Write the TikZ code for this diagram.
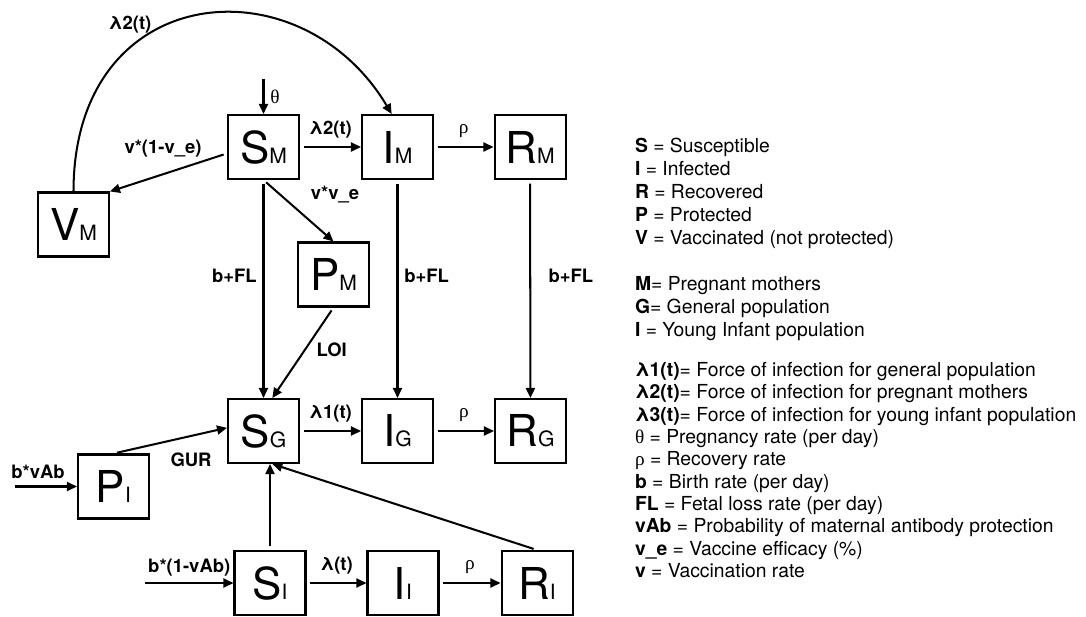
\documentclass[tikz,border=0pt]{standalone}
\usepackage{fontspec}
\setmainfont{TeX Gyre Heros}
\newfontfamily\symfont{Liberation Serif}
\usepackage{tikz}
\usetikzlibrary{positioning,arrows.meta}

% compartment label: big letter, small group letter on the same baseline
\newcommand{\cmpt}[2]{{\fontsize{25}{25}\selectfont #1}{\fontsize{12}{12}\selectfont #2}}

\begin{document}
\begin{tikzpicture}[>={Triangle[length=2mm,width=1.8mm]},line width=1.15pt,
  box/.style={draw,minimum width=1.42cm,minimum height=1.28cm,inner sep=0pt},
  flow/.style={->,shorten <=2pt},
  rate/.style={font=\fontsize{10.5}{12}\selectfont\bfseries},
  greek/.style={font=\fontsize{11}{12}\selectfont\symfont},
  key/.style={font=\fontsize{11}{13}\selectfont,align=left,anchor=north west,inner sep=0pt}]
  \useasboundingbox (0,0) rectangle (21.72,12.32);

  % pregnant mothers
  \node[box] (SM) at (5.27,9.38) {\cmpt{S}{M}};
  \node[box] (IM) at (7.95,9.38) {\cmpt{I}{M}};
  \node[box] (RM) at (10.60,9.38) {\cmpt{R}{M}};
  \node[box] (VM) at (1.47,7.83) {\cmpt{V}{M}};
  \node[box] (PM) at (6.67,6.83) {\cmpt{P}{M}};

  % general population
  \node[box] (SG) at (5.27,3.70) {\cmpt{S}{G}};
  \node[box] (IG) at (7.95,3.70) {\cmpt{I}{G}};
  \node[box] (RG) at (10.61,3.70) {\cmpt{R}{G}};

  % young infants
  \node[box] (PI) at (2.27,2.59) {\cmpt{P}{I}};
  \node[box] (SI) at (5.40,0.66) {\cmpt{S}{I}};
  \node[box] (II) at (8.06,0.66) {\cmpt{I}{I}};
  \node[box] (RI) at (10.74,0.66) {\cmpt{R}{I}};

  % inflows
  \coordinate (thetain) at (5.27,10.74);
  \coordinate (vAbin) at (0.30,2.59);
  \coordinate (novAbin) at (2.90,0.66);
  \draw[->] (thetain) -- node[right,greek] (lTheta) {θ} (SM);
  \draw[->] (vAbin) -- (PI);
  \node[rate] (lvAb) at (0.76,2.88) {b*vAb};
  \draw[->] (novAbin) -- node[above,rate] (lnovAb) {b*(1-vAb)} (SI);

  % mothers
  \draw[->] (VM.north) .. controls (1.47,12.72) and (6.0,13.12) .. (IM.100);
  \node[rate] (lLamTop) at (2.60,11.82) {λ2(t)};
  \draw[flow] (SM) -- node[above=0.4mm,rate] (lLamM) {λ2(t)} (IM);
  \draw[flow] (IM) -- node[above=0.5mm,greek] (lRhoM) {ρ} (RM);
  \draw[flow] (SM.-170) -- (VM.north east);
  \node[rate] (lVacc) at (3.26,9.34) {v*(1-v\_e)};
  \draw[flow] (SM.south) -- (PM.north);
  \node[rate] (lProt) at (6.70,8.42) {v*v\_e};

  % births and fetal loss
  \draw[flow] (SM) -- node[left,pos=0.44,rate] (lbFLa) {b+FL} (SG);
  \draw[flow] (IM) -- node[right,pos=0.44,rate] (lbFLb) {b+FL} (IG);
  \draw[flow] (RM) -- node[right=2.3mm,pos=0.44,rate] (lbFLc) {b+FL} (RG);
  \draw[flow] (PM.south) -- node[right=1mm,pos=0.47,rate] (lLOI) {LOI} (SG.75);

  % general population
  \draw[flow] (SG) -- node[above=0.4mm,rate] (lLamG) {λ1(t)} (IG);
  \draw[flow] (IG) -- node[above=0.5mm,greek] (lRhoG) {ρ} (RG);

  % infants
  \draw[flow] (PI.north) -- (SG.175);
  \node[rate] (lGUR) at (3.82,3.12) {GUR};
  \draw[flow] (SI.north) -- (SI.north |- SG.south);
  \draw[flow] (RI.north) -- (SG.-75);
  \draw[flow] (SI) -- node[above=0.4mm,rate] (lLamI) {λ(t)} (II);
  \draw[flow] (II) -- node[above=0.5mm,greek] (lRhoI) {ρ} (RI);

  % legend
  \node[key] (keyA) at (12.68,9.57) {\textbf{S} = Susceptible\\\textbf{I} = Infected\\\textbf{R} = Recovered\\\textbf{P} = Protected\\\textbf{V} = Vaccinated (not protected)};
  \node[key] (keyB) at (12.68,6.81) {\textbf{M}= Pregnant mothers\\\textbf{G}= General population\\\textbf{I} = Young Infant population};
  \node[key,font=\fontsize{11}{12.7}\selectfont] (keyC) at (12.68,5.09) {\textbf{λ1(t)}= Force of infection for general population\\
    \textbf{λ2(t)}= Force of infection for pregnant mothers\\
    \textbf{λ3(t)}= Force of infection for young infant population\\
    {\symfont θ} = Pregnancy rate (per day)\\
    {\symfont ρ} = Recovery rate\\
    \textbf{b} = Birth rate (per day)\\
    \textbf{FL} = Fetal loss rate (per day)\\
    \textbf{vAb} = Probability of maternal antibody protection\\
    \textbf{v\_e} = Vaccine efficacy (\%)\\
    \textbf{v} = Vaccination rate};
\end{tikzpicture}
\end{document}
